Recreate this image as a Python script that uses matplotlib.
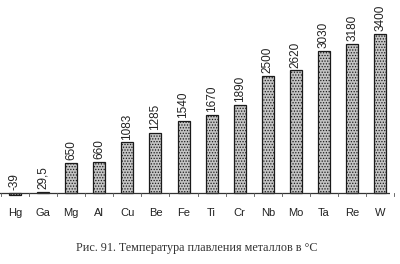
import matplotlib
matplotlib.use("Agg")
import matplotlib.pyplot as plt

metals = ["Hg", "Ga", "Mg", "Al", "Cu", "Be", "Fe", "Ti", "Cr", "Nb", "Mo", "Ta", "Re", "W"]
values = [-39, 29.5, 650, 660, 1083, 1285, 1540, 1670, 1890, 2500, 2620, 3030, 3180, 3400]
labels = ["-39", "29,5", "650", "660", "1083", "1285", "1540", "1670", "1890", "2500", "2620", "3030", "3180", "3400"]
caption = "Рис. 91. Температура плавления металлов в °C"

plt.rcParams["hatch.color"] = "#555555"
plt.rcParams["hatch.linewidth"] = 0.6

fig = plt.figure(figsize=(4.0, 2.64), dpi=100)
ax = fig.add_axes([0.0, 64 / 264, 390 / 400, 190 / 264])

x = list(range(len(metals)))
ax.bar(x, values, width=0.43, color="#c4c4c4", edgecolor="#1a1a1a",
       linewidth=0.9, hatch="......", zorder=2)

for xi, v, lab in zip(x, values, labels):
    y0 = max(v, 0) + 60
    ax.text(xi, y0, lab, rotation=90, ha="center", va="bottom",
            fontsize=8.5, family="Liberation Sans", color="#222222")

ax.set_xlim(-0.534, 13.35)
ax.set_ylim(-150, 3913)
ax.axhline(0, color="#333333", linewidth=0.9, zorder=3)
for s in ax.spines.values():
    s.set_visible(False)
ax.set_yticks([])
ax.set_xticks(x)
ax.set_xticklabels(metals, family="Liberation Sans", fontsize=8, color="#222222")
ax.tick_params(axis="x", length=0, pad=6)
for t in [i + 0.5 for i in range(-1, 14)]:
    ax.plot([t, t], [0, -60], color="#555555", linewidth=0.6, clip_on=False, zorder=3)

fig.text(197 / 400, 1 - 248 / 264, caption, ha="center", va="center",
         family="Liberation Serif", fontsize=8.7, color="#333333")

fig.savefig("out.png", dpi=100, facecolor="white")
